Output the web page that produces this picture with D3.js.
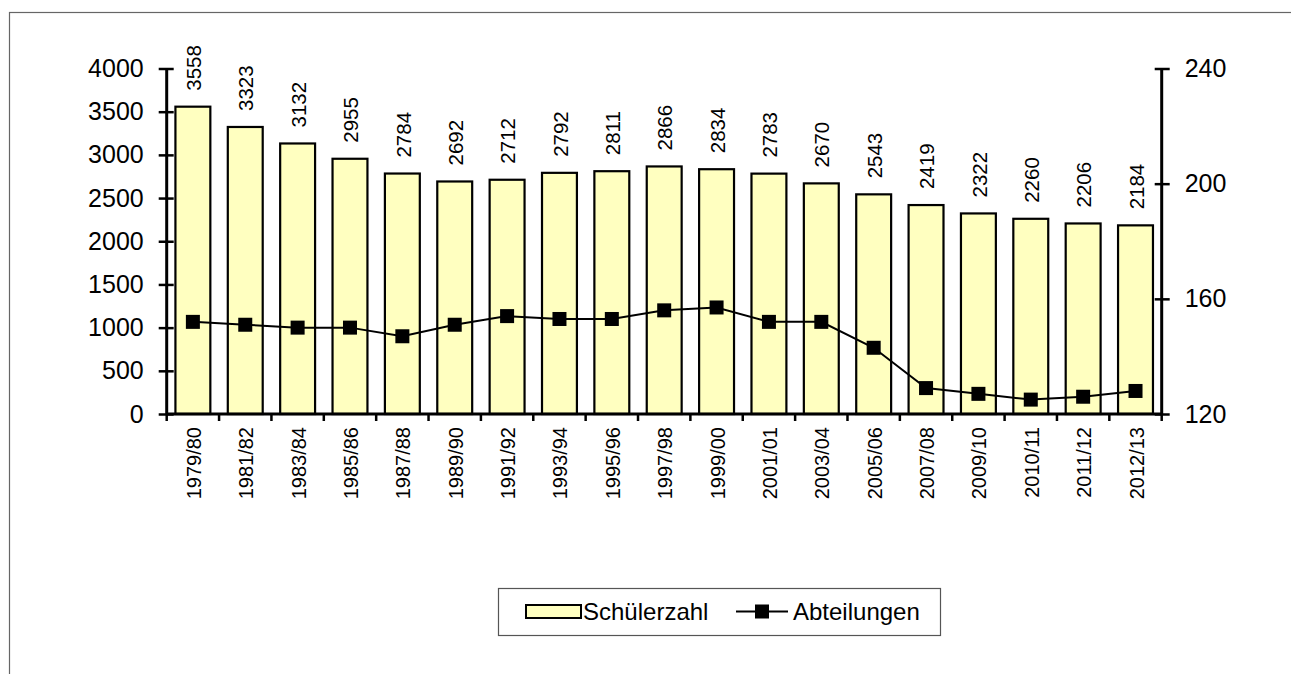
<!DOCTYPE html>
<html><head><meta charset="utf-8">
<script src="https://cdn.jsdelivr.net/npm/d3@7"></script>
<style>body{margin:0;background:#fff}svg{display:block;font-family:"Liberation Sans",Arial,sans-serif}</style>
</head><body><svg id="c" width="1291" height="674"></svg>
<script>
const categories=["1979/80","1981/82","1983/84","1985/86","1987/88","1989/90","1991/92","1993/94","1995/96","1997/98","1999/00","2001/01","2003/04","2005/06","2007/08","2009/10","2010/11","2011/12","2012/13"];
const schuelerzahl=[3558,3323,3132,2955,2784,2692,2712,2792,2811,2866,2834,2783,2670,2543,2419,2322,2260,2206,2184];
const abteilungen=[152,151,150,150,147,151,154,153,153,156,157,152,152,143,129,127,125,126,128];
const leftTicks=[0,500,1000,1500,2000,2500,3000,3500,4000];
const rightTicks=[120,160,200,240];
const seriesNames=["Schülerzahl","Abteilungen"];

const svg=d3.select("#c");
const barFill="#FFFFC0";
svg.append("rect").attr("x",9.5).attr("y",12.5).attr("width",1400).attr("height",800).attr("fill","none").attr("stroke","#666").attr("stroke-width",1.2);

const x=d3.scaleBand().domain(categories).range([166.7,1161.7]).paddingInner(1/3).paddingOuter(1/6);
const yL=d3.scaleLinear().domain([0,4000]).range([414,68.5]);
const yR=d3.scaleLinear().domain([120,240]).range([414,68.5]);

// bars
svg.append("g").selectAll("rect").data(categories).join("rect")
 .attr("x",d=>x(d)).attr("width",x.bandwidth())
 .attr("y",(d,i)=>yL(schuelerzahl[i])).attr("height",(d,i)=>yL(0)-yL(schuelerzahl[i]))
 .attr("fill",barFill).attr("stroke","#000").attr("stroke-width",2.2);

// data labels
svg.append("g").selectAll("text").data(categories).join("text")
 .attr("transform",(d,i)=>`translate(${x(d)+x.bandwidth()/2+1},${yL(schuelerzahl[i])-16}) rotate(-90)`)
 .attr("dy","0.35em").attr("text-anchor","start").attr("font-size",20.5).text((d,i)=>schuelerzahl[i]);

// left axis
const gl=svg.append("g").attr("transform","translate(166.7,0)")
 .call(d3.axisLeft(yL).tickValues(leftTicks).tickSize(8).tickPadding(15).tickFormat(d3.format("d")));
gl.selectAll(".tick line").attr("x1",7).attr("stroke-width",2.5);
gl.select(".domain").attr("stroke-width",3).attr("d","M0,414V68.5");
gl.selectAll("text").attr("font-size",25).attr("fill","#000");

// right axis
const gr=svg.append("g").attr("transform","translate(1161.7,0)")
 .call(d3.axisRight(yR).tickValues(rightTicks).tickSize(8).tickPadding(15));
gr.selectAll(".tick line").attr("x1",-7).attr("stroke-width",2.5);
gr.select(".domain").attr("stroke-width",3).attr("d","M0,414V68.5");
gr.selectAll("text").attr("font-size",25).attr("fill","#000");

// category axis
const gb=svg.append("g").attr("transform","translate(0,414)");
gb.append("line").attr("x1",x.range()[0]).attr("x2",x.range()[1]).attr("stroke","#000").attr("stroke-width",3);
const bounds=d3.range(categories.length+1).map(i=>x.range()[0]+i*x.step());
gb.selectAll("line.t").data(bounds).join("line").attr("class","t")
 .attr("x1",d=>d).attr("x2",d=>d).attr("y1",0).attr("y2",7).attr("stroke","#000").attr("stroke-width",2.5);
gb.selectAll("text").data(categories).join("text")
 .attr("transform",d=>`translate(${x(d)+x.bandwidth()/2+1},13) rotate(-90)`)
 .attr("dy","0.35em").attr("text-anchor","end").attr("font-size",20).text(d=>d);

// line
const line=d3.line().x((d,i)=>x(categories[i])+x.bandwidth()/2).y(d=>yR(d));
svg.append("path").datum(abteilungen).attr("d",line).attr("fill","none").attr("stroke","#000").attr("stroke-width",2);
svg.append("g").selectAll("rect").data(abteilungen).join("rect")
 .attr("x",(d,i)=>x(categories[i])+x.bandwidth()/2-7).attr("y",d=>yR(d)-7)
 .attr("width",14).attr("height",14).attr("fill","#000");

// legend
const lg=svg.append("g");
lg.append("rect").attr("x",498.5).attr("y",588.5).attr("width",442).attr("height",47).attr("fill","#fff").attr("stroke","#555").attr("stroke-width",1.2);
lg.append("rect").attr("x",526).attr("y",605).attr("width",55).attr("height",13).attr("fill",barFill).attr("stroke","#000").attr("stroke-width",2);
lg.append("text").attr("x",583).attr("y",612).attr("dy","0.35em").attr("font-size",24).text(seriesNames[0]);
lg.append("line").attr("x1",736).attr("x2",788).attr("y1",611.5).attr("y2",611.5).attr("stroke","#000").attr("stroke-width",2);
lg.append("rect").attr("x",755).attr("y",604.5).attr("width",14).attr("height",14).attr("fill","#000");
lg.append("text").attr("x",793).attr("y",612).attr("dy","0.35em").attr("font-size",24).text(seriesNames[1]);
</script></body></html>
